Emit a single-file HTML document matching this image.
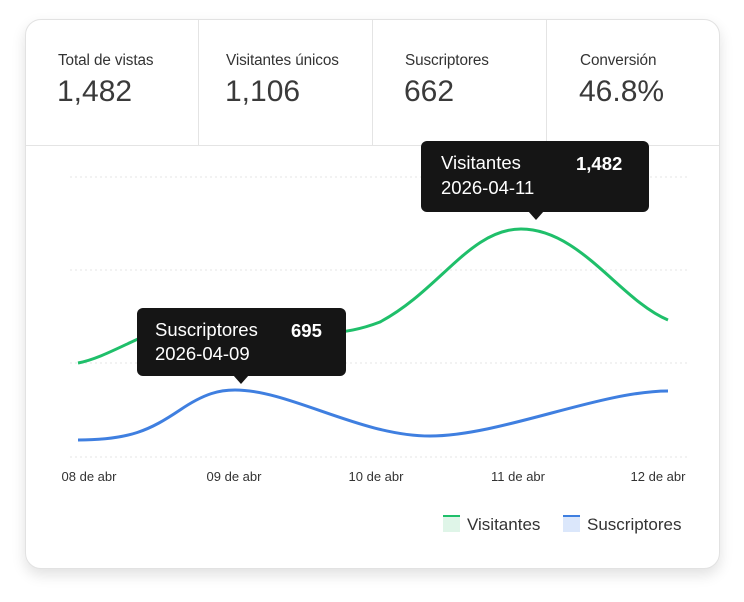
<!DOCTYPE html>
<html><head><meta charset="utf-8"><style>
body{margin:0;width:744px;height:602px;background:#fff;font-family:"Liberation Sans",sans-serif;position:relative;overflow:hidden}
.card{position:absolute;left:25px;top:19px;width:693px;height:548px;border:1px solid #e2e2e2;border-radius:16px;box-shadow:0 6px 14px rgba(0,0,0,.12);background:#fff;overflow:hidden}
.stats{position:absolute;left:0;top:0;width:693px;height:125px;border-bottom:1px solid #e4e4e4}
.s{position:absolute;top:0;height:125px;border-right:1px solid #e4e4e4}
.s .l{position:absolute;left:32px;top:32px;font-size:15.3px;color:#333;letter-spacing:-0.1px}
.s .v{position:absolute;left:31px;top:55px;font-size:30px;color:#3a3a3a}
.tip{position:absolute;background:#151515;border-radius:6px;color:#fff;font-size:18.5px}
</style></head><body>
<div class="card">
<div class="stats">
<div class="s" style="left:0;width:172px"><div class="l">Total de vistas</div><div class="v">1,482</div></div>
<div class="s" style="left:172px;width:174px"><div class="l" style="left:28px">Visitantes únicos</div><div class="v" style="left:27px">1,106</div></div>
<div class="s" style="left:346px;width:174px"><div class="l" style="left:33px">Suscriptores</div><div class="v" style="left:32px">662</div></div>
<div class="s" style="left:520px;width:173px;border:none"><div class="l" style="left:34px">Conversión</div><div class="v" style="left:33px">46.8%</div></div>
</div>
</div>
<svg width="744" height="602" style="position:absolute;left:0;top:0">
<g stroke="#e6e6e6" stroke-dasharray="2,3" stroke-width="1">
<line x1="70" x2="690" y1="177" y2="177"/><line x1="70" x2="690" y1="270" y2="270"/><line x1="70" x2="690" y1="363" y2="363"/><line x1="70" x2="690" y1="457" y2="457"/></g>
<path d="M78,363 C120,355 170,310 235,318 C290,325 320,345 380,322 C440,290 470,229 521,229 C580,229 620,300 668,320" fill="none" stroke="#1fbf6a" stroke-width="3"/>
<path d="M78,440 C130,440 150,430 180,410 C205,393 220,390 235,390 C290,390 360,436 430,436 C500,436 600,391 668,391" fill="none" stroke="#3f7fe0" stroke-width="3"/>
<g font-size="13" fill="#333" text-anchor="middle">
<text x="89" y="481">08 de abr</text><text x="234" y="481">09 de abr</text><text x="376" y="481">10 de abr</text><text x="518" y="481">11 de abr</text><text x="658" y="481">12 de abr</text></g>
<rect x="443" y="515" width="17" height="17" fill="#dff5e8"/><rect x="443" y="515" width="17" height="2" fill="#1fbf6a"/>
<text x="467" y="530" font-size="17" fill="#333">Visitantes</text>
<rect x="563" y="515" width="17" height="17" fill="#dbe7fb"/><rect x="563" y="515" width="17" height="2" fill="#3f7fe0"/>
<text x="587" y="530" font-size="17" fill="#333">Suscriptores</text>
<polygon points="528,211 544,211 536,220" fill="#151515"/>
<polygon points="233,375 249,375 241,384" fill="#151515"/>
</svg>
<div class="tip" style="left:421px;top:141px;width:228px;height:71px"><span style="position:absolute;left:20px;top:11px">Visitantes</span><b style="position:absolute;left:155px;top:12px">1,482</b><span style="position:absolute;left:20px;top:36px">2026-04-11</span></div>
<div class="tip" style="left:137px;top:308px;width:209px;height:68px"><span style="position:absolute;left:18px;top:11px">Suscriptores</span><b style="position:absolute;left:154px;top:12px">695</b><span style="position:absolute;left:18px;top:35px">2026-04-09</span></div>
</body></html>
